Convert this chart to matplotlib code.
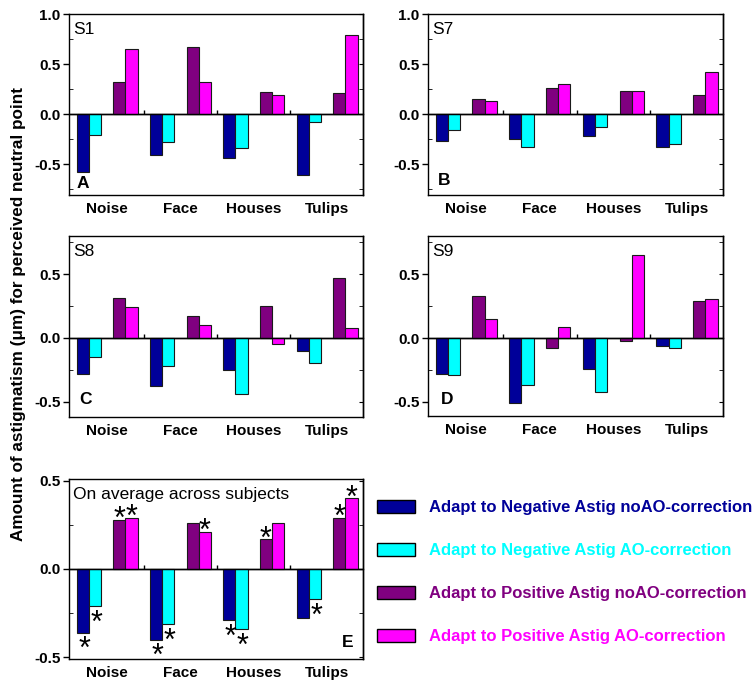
import numpy as np
import matplotlib.pyplot as plt
from matplotlib.patches import Patch
from matplotlib.ticker import MultipleLocator

plt.rcParams['font.family'] = ['Liberation Sans', 'DejaVu Sans']
plt.rcParams['axes.unicode_minus'] = False

categories = ['Noise', 'Face', 'Houses', 'Tulips']
series_names = ['Adapt to Negative Astig noAO-correction',
                'Adapt to Negative Astig AO-correction',
                'Adapt to Positive Astig noAO-correction',
                'Adapt to Positive Astig AO-correction']
colors = ['#000099', '#00FFFF', '#800080', '#FF00FF']

# values per series (neg noAO, neg AO, pos noAO, pos AO), one entry per category
s1 = [[-0.58, -0.41, -0.44, -0.61],
      [-0.21, -0.28, -0.34, -0.08],
      [0.32, 0.67, 0.22, 0.21],
      [0.65, 0.32, 0.19, 0.79]]

s7 = [[-0.27, -0.25, -0.22, -0.33],
      [-0.16, -0.33, -0.13, -0.30],
      [0.15, 0.26, 0.23, 0.19],
      [0.13, 0.30, 0.23, 0.42]]

s8 = [[-0.28, -0.38, -0.25, -0.10],
      [-0.15, -0.22, -0.44, -0.20],
      [0.31, 0.17, 0.25, 0.47],
      [0.24, 0.10, -0.05, 0.08]]

s9 = [[-0.28, -0.51, -0.24, -0.06],
      [-0.29, -0.37, -0.42, -0.08],
      [0.33, -0.08, -0.02, 0.29],
      [0.15, 0.09, 0.65, 0.31]]

avg = [[-0.36, -0.40, -0.29, -0.28],
       [-0.21, -0.31, -0.34, -0.17],
       [0.28, 0.26, 0.17, 0.29],
       [0.29, 0.21, 0.26, 0.40]]

# significance stars on the average panel
avg_stars = [[True, True, True, False],
             [True, True, True, True],
             [True, False, True, True],
             [True, True, False, True]]

W, H = 755, 687
fig = plt.figure(figsize=(W / 100, H / 100), dpi=100)


def px_axes(left, right, top, bottom):
    return fig.add_axes([left / W, 1 - bottom / H, (right - left) / W, (bottom - top) / H])


def panel(ax, values, ylim, name, letter, letter_pos, letter_ha='left', stars=None):
    x = np.arange(len(categories))
    w = 1 / 6
    offsets = [-2, -1, 1, 2]
    for i, (vals, off, c) in enumerate(zip(values, offsets, colors)):
        ax.bar(x + off * w, vals, w, color=c, edgecolor='#1a1a1a', linewidth=0.8, zorder=2)
        if stars is not None:
            for xi, v, s in zip(x, vals, stars[i]):
                if not s:
                    continue
                if v < 0:
                    ax.annotate('*', (xi + off * w, v), xytext=(1, -2), textcoords='offset points',
                                ha='center', va='top', fontsize=22, zorder=3)
                else:
                    ax.annotate('*', (xi + off * w, v), xytext=(0, 10.5), textcoords='offset points',
                                ha='center', va='top', fontsize=22, zorder=3)
    ax.axhline(0, color='black', linewidth=1.0, zorder=3)
    ax.set_xlim(-0.52, 3.49)
    ax.set_ylim(*ylim)
    ax.set_xticks(x, categories, fontweight='bold', fontsize=11)
    ax.tick_params(axis='x', length=0, pad=5)
    ax.yaxis.set_major_locator(MultipleLocator(0.5))
    ax.yaxis.set_minor_locator(MultipleLocator(0.25))
    ax.yaxis.set_major_formatter('{x:.1f}')
    ax.tick_params(axis='y', which='major', direction='out', length=4, width=1, pad=2,
                   labelsize=11)
    ax.tick_params(axis='y', which='minor', direction='in', length=3)
    for lab in ax.get_yticklabels():
        lab.set_fontweight('bold')
    for sp in ax.spines.values():
        sp.set_linewidth(1.0)

    # right side ticks pointing in
    sy = ax.secondary_yaxis('right')
    sy.yaxis.set_major_locator(MultipleLocator(0.5))
    sy.yaxis.set_minor_locator(MultipleLocator(0.25))
    sy.tick_params(which='both', direction='in', length=3, labelright=False)
    sy.spines['right'].set_linewidth(1.0)

    # small ticks on the zero line between categories
    loc = -ylim[0] / (ylim[1] - ylim[0])
    sx = ax.secondary_xaxis(loc)
    sx.set_alignment('bottom')
    sx.set_xticks(x[:-1] + 0.5)
    sx.tick_params(direction='in', length=3, width=1, labelbottom=False, labeltop=False)
    sx.spines['bottom'].set_linewidth(1.0)

    ax.text(0.015, 0.955, name, transform=ax.transAxes, ha='left', va='top', fontsize=12.5)
    ax.text(letter_pos[0], letter_pos[1], letter, transform=ax.transAxes, ha=letter_ha,
            va='baseline', fontsize=12.5, fontweight='bold')


axA = px_axes(69, 363, 14, 195)
axB = px_axes(428, 723, 14, 195)
axC = px_axes(69, 363, 236, 417)
axD = px_axes(428, 723, 236, 416)
axE = px_axes(69, 363, 479, 659)

panel(axA, s1, (-0.81, 1.0), 'S1', 'A', (0.025, 0.04))
panel(axB, s7, (-0.81, 1.0), 'S7', 'B', (0.034, 0.055))
panel(axC, s8, (-0.62, 0.8), 'S8', 'C', (0.034, 0.07))
panel(axD, s9, (-0.61, 0.8), 'S9', 'D', (0.044, 0.066))
panel(axE, avg, (-0.51, 0.51), 'On average across subjects', 'E', (0.966, 0.067),
      letter_ha='right', stars=avg_stars)

fig.text(0.024, 0.543, 'Amount of astigmatism (\u03bcm) for perceived neutral point',
         rotation=90, ha='center', va='center', fontsize=12.3, fontweight='bold')

handles = [Patch(facecolor=c, edgecolor='black', linewidth=1.0) for c in colors]
fig.legend(handles, series_names, loc='upper left', bbox_to_anchor=(377 / W, 1 - 500 / H),
           frameon=False, borderpad=0, borderaxespad=0, handlelength=2.28, handleheight=0.84,
           handletextpad=0.84, labelspacing=1.66, labelcolor=colors,
           prop={'weight': 'bold', 'size': 12})

fig.savefig('out.png', dpi=100)
